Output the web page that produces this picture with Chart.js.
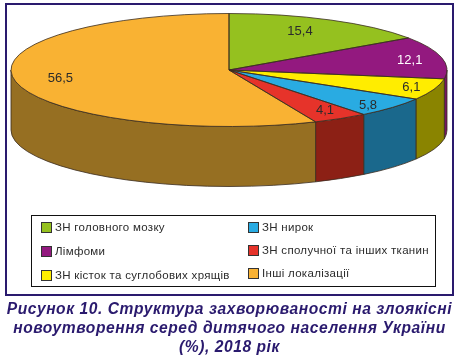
<!DOCTYPE html>
<html lang="uk">
<head>
<meta charset="utf-8">
<title>Рисунок 10</title>
<script src="https://cdn.jsdelivr.net/npm/chart.js@4"></script>
<style>
    html, body { margin: 0; padding: 0; background: #fff; }
    body { position: relative; width: 459px; height: 358px; overflow: hidden; font-family: "Liberation Sans", Arial, sans-serif; }
    #frame { position: absolute; left: 4.5px; top: 2.5px; width: 445px; height: 289px; border: 2.5px solid #2a1a6e; }
    #pie { position: absolute; left: 0; top: 0; }
    #legend { position: absolute; left: 31px; top: 215px; width: 403px; height: 70px; border: 1px solid #111; }
    .item { position: absolute; font-size: 11.5px; letter-spacing: 0.3px; color: #2b2b2b; white-space: nowrap; }
    .item i { position: absolute; left: -14px; top: 1px; width: 9px; height: 9px; border: 1px solid #333; }
    #caption { position: absolute; left: 0; top: 299px; width: 459px; text-align: center; color: #2a1a6e;
        font-size: 15.6px; line-height: 19px; font-weight: bold; font-style: italic; letter-spacing: 0.56px; white-space: nowrap; }
</style>
</head>
<body>
<div id="frame"></div>
<canvas id="pie" width="459" height="358"></canvas>
<div id="legend"></div>
<div id="caption">Рисунок 10. Структура захворюваності на злоякісні<br>новоутворення серед дитячого населення України<br>(%), 2018 рік</div>
<script>
// values
const categories = ['ЗН головного мозку', 'Лімфоми', 'ЗН кісток та суглобових хрящів', 'ЗН нирок', 'ЗН сполучної та інших тканин', 'Інші локалізації'];
const values = [15.4, 12.1, 6.1, 5.8, 4.1, 56.5];
const valueLabels = ['15,4', '12,1', '6,1', '5,8', '4,1', '56,5'];

const topColors = ['#95c11f', '#93197f', '#ffed00', '#29abe2', '#e6332a', '#f9b233'];
const sideColors = ['#6a8a16', '#751564', '#8a8400', '#1a688c', '#8c2015', '#966f22'];
const labelColors = ['#2b2b2b', '#ffffff', '#2b2b2b', '#2b2b2b', '#2b2b2b', '#2b2b2b'];
// label distance from the centre, as a share of each ellipse radius
const labelRadiusX = [0.70, 0.85, 0.89, 0.85, 0.86, 0.79];
const labelRadiusY = [0.78, 0.78, 0.88, 0.96, 0.84, 0.77];

// the flat pie is squashed onto this ellipse
const CX = 229, CY = 70, RX = 218, RY = 56.5, DEPTH = 60;

const legendRows = [[0, 3], [1, 4], [2, 5]];
const legendEl = document.getElementById('legend');
const rowTops = [[5, 5], [29, 28], [53, 51]];
legendRows.forEach((row, r) => {
    row.forEach((idx, c) => {
        const item = document.createElement('div');
        item.className = 'item';
        item.style.left = (c === 0 ? 23 : 230) + 'px';
        item.style.top = rowTops[r][c] + 'px';
        item.textContent = categories[idx];
        const box = document.createElement('i');
        box.style.background = topColors[idx];
        item.appendChild(box);
        legendEl.appendChild(item);
    });
});

function squash(ctx, arc) {
    const s = RX / arc.outerRadius;
    const t = RY / arc.outerRadius;
    ctx.translate(CX, CY);
    ctx.scale(s, t);
    ctx.translate(-arc.x, -arc.y);
}

const pie3d = {
    id: 'pie3d',
    beforeDatasetsDraw(chart) {
        const ctx = chart.ctx;
        const arcs = chart.getDatasetMeta(0).data;
        ctx.save();
        ctx.lineWidth = 0.8;
        ctx.strokeStyle = '#3a2c20';
        // side wall, only the front half of the rim shows
        arcs.forEach((arc, i) => {
            const a0 = Math.max(arc.startAngle, 0);
            const a1 = Math.min(arc.endAngle, Math.PI);
            if (a1 <= a0) return;
            ctx.beginPath();
            ctx.ellipse(CX, CY, RX, RY, 0, a0, a1);
            ctx.ellipse(CX, CY + DEPTH, RX, RY, 0, a1, a0, true);
            ctx.closePath();
            ctx.fillStyle = sideColors[i];
            ctx.fill();
            ctx.stroke();
        });
        ctx.restore();
        ctx.save();
        squash(ctx, arcs[0]);
    },
    afterDatasetsDraw(chart) {
        const ctx = chart.ctx;
        const arcs = chart.getDatasetMeta(0).data;
        ctx.restore();
        ctx.save();
        ctx.lineWidth = 0.8;
        ctx.strokeStyle = '#3a2c20';
        arcs.forEach(arc => {
            ctx.beginPath();
            ctx.moveTo(CX, CY);
            ctx.ellipse(CX, CY, RX, RY, 0, arc.startAngle, arc.endAngle);
            ctx.closePath();
            ctx.stroke();
        });
        ctx.font = '13px "Liberation Sans", Arial, sans-serif';
        ctx.textAlign = 'center';
        ctx.textBaseline = 'middle';
        arcs.forEach((arc, i) => {
            const mid = (arc.startAngle + arc.endAngle) / 2;
            ctx.fillStyle = labelColors[i];
            ctx.fillText(valueLabels[i],
                CX + RX * labelRadiusX[i] * Math.cos(mid),
                CY + RY * labelRadiusY[i] * Math.sin(mid));
        });
        ctx.restore();
    }
};

new Chart(document.getElementById('pie'), {
    type: 'pie',
    data: {
        labels: categories,
        datasets: [{
            data: values,
            backgroundColor: topColors,
            borderWidth: 0,
            clip: false
        }]
    },
    options: {
        responsive: false,
        animation: false,
        plugins: {
            legend: { display: false },
            tooltip: { enabled: false }
        }
    },
    plugins: [pie3d]
});
</script>
</body>
</html>
